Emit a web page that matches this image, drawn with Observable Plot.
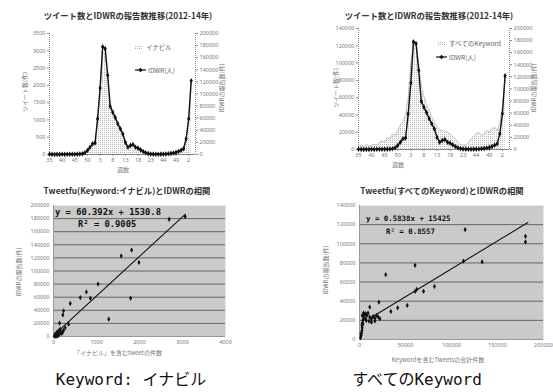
<!DOCTYPE html>
<html><head><meta charset="utf-8">
<script src="https://cdn.jsdelivr.net/npm/d3@7"></script>
<script src="https://cdn.jsdelivr.net/npm/@observablehq/plot@0.6"></script>
<style>
body{margin:0;background:#fff;}
#root{position:relative;width:553px;height:392px;overflow:hidden;font-family:"Noto Sans CJK JP","Noto Sans",sans-serif;}
.abs{position:absolute;white-space:nowrap;line-height:1;}
.c{transform:translate(-50%,-50%);}
.title{font-size:8.3px;font-weight:bold;color:#333;}
.axt{font-size:6px;color:#777;}
.vt{font-size:6px;color:#777;transform:translate(-50%,-50%) rotate(-90deg);}
.leg{font-size:6.5px;color:#666;}
.eq{font-family:"DejaVu Sans Mono","Noto Sans CJK JP",monospace;font-weight:bold;color:#111;}
.cap{font-family:"DejaVu Sans Mono","Noto Sans CJK JP",monospace;font-size:16px;color:#111;}
svg.plot-el{position:absolute;}
</style></head>
<body><div id="root">
<svg width="0" height="0" style="position:absolute">
 <defs>
  <pattern id="dots" width="2" height="2" patternUnits="userSpaceOnUse">
   <rect x="0" y="0" width="2" height="2" fill="#fafafa"/>
   <rect x="0" y="0" width="1" height="1" fill="#b8b8b8"/>
  </pattern>
  <pattern id="bg" width="2" height="2" patternUnits="userSpaceOnUse">
   <rect x="0" y="0" width="2" height="2" fill="#ebebeb"/>
   <rect x="0" y="0" width="1" height="1" fill="#a8a8a8"/>
   <rect x="1" y="1" width="1" height="1" fill="#a8a8a8"/>
  </pattern>
 </defs>
</svg>
</div>
<script>
// ---- data ----
const weeks = [35,36,37,38,39,40,41,42,43,44,45,46,47,48,49,50,51,52,1,2,3,4,5,6,7,8,9,10,11,12,13,14,15,16,17,18,19,20,21,22,23,40,41,42,43,44,45,46,47,48,49,50,51,52,1,2,3];
const idwr = [300,250,200,250,200,300,250,300,350,400,500,600,800,1200,
  3000,6600,12000,17700,19000,59000,110000,178000,175000,131000,
  79500,70000,61000,51000,42500,34000,20000,12000,15000,16500,
  12000,10500,7700,5000,2800,1500,900,600,500,500,
  600,700,900,1200,1800,2500,3500,5000,7000,9400,
  26000,59000,122000];
const tweetsInabiru = [15,12,10,14,10,12,15,12,15,18,20,25,30,40,
  60,110,190,260,320,1000,1900,2950,2900,2200,
  1300,1150,1000,820,680,550,330,200,230,260,
  200,170,120,80,50,30,20,15,12,12,
  15,18,22,28,40,55,70,95,130,180,
  450,1000,2050];
const tweetsAll = [4000,5000,3000,6000,4000,5000,6000,5000,8000,10000,9000,14000,12000,18000,
  16000,22000,28000,32000,40000,60000,100000,126000,124000,100000,
  75000,62000,52000,45000,38000,32000,26000,23000,22000,21000,
  20000,18000,15000,12000,9000,6000,5000,5000,8000,12000,
  15000,18000,20000,16000,18000,22000,20000,24000,26000,22000,
  30000,50000,80000];
const weekTickIdx = [0,5,10,15,20,25,30,35,40,45,50,55];

const sc1x = [2689,3063,1574,1816,1987,1037,764,624,857,1793,390,234,218,1286,140,351,273,
  78,117,156,62,94,140,195,234,39,16,117,171,218,39,78];
const sc1y = [179000,183000,123000,132000,113000,80000,68000,59500,58500,58500,50400,39200,33000,26500,20300,18800,13700,
  6100,8650,11200,2500,1000,3600,4600,9700,300,500,2000,6600,7600,3600,500];
const trend1 = {slope:60.392, intercept:1530.8, x0:30, x1:3063};

const sc2x = [114800,180400,180400,113000,133300,60400,28500,62200,60400,69600,81500,21100,51900,41500,34100,11100,
  1850,2200,2600,3000,2600,3000,3700,4400,4400,5550,6700,8100,9250,11100,13000,14800,16700,18500,20400,22200,
  13000,16700,7400,10400,4400,3000,1100,1500,3700,6700];
const sc2y = [114800,107800,101900,82000,81000,77500,67700,52300,50300,50300,55500,39100,35600,33100,29300,33900,
  4200,6600,9400,12200,14700,17100,19900,21600,24100,26200,26900,25100,27600,23400,21600,24100,22300,25100,23400,21600,
  18100,19200,19900,19200,27600,25100,1700,5900,16400,21600];
const trend2 = {slope:0.5838, intercept:15425, x0:13700, x1:183000};

const leftTicks1 = d3.range(0,3501,500);
const leftTicks2 = d3.range(0,140001,20000);
const rightTicks = d3.range(0,200001,20000);
const sc1xTicks = [0,1000,2000,3000,4000];
const sc1yTicks = d3.range(0,200001,20000);
const sc2xTicks = [0,50000,100000,150000,200000];
const sc2yTicks = d3.range(0,140001,20000);

// ---- helpers ----
const root = document.getElementById("root");
const plain = d => String(d);
function place(el, left, top){ el.classList.add("plot-el"); el.style.left=left+"px"; el.style.top=top+"px"; root.appendChild(el); }
function txt(cls, s, x, y, extra){ const d=document.createElement("div"); d.className="abs "+cls; d.textContent=s; d.style.left=x+"px"; d.style.top=y+"px"; if(extra) Object.assign(d.style, extra); root.appendChild(d); return d; }
const base = {fontSize:"5.5px", color:"#777", fontFamily:"'Noto Sans','DejaVu Sans',sans-serif", background:"none", overflow:"visible"};
const rows = weeks.map((w,i)=>({i, w, idwr:idwr[i], ti:tweetsInabiru[i], ta:tweetsAll[i]}));
const xDom = [0,57.7];

function topChart(left, W, H, m, tweetKey, yMax, leftTicks){
  const a = Plot.plot({width:W,height:H,marginLeft:m.l,marginRight:m.r,marginTop:m.t,marginBottom:m.b,
    style:base, x:{domain:xDom}, y:{domain:[0,yMax]},
    marks:[
      Plot.areaY(rows,{x:"i",y:tweetKey,fill:"url(#dots)",curve:"linear"}),
      Plot.lineY(rows,{x:"i",y:tweetKey,stroke:"#aaa",strokeWidth:0.7,strokeDasharray:"1,1"}),
      Plot.ruleX([xDom[0]],{stroke:"#888",strokeDasharray:"1,1"}),
      Plot.ruleY([0],{stroke:"#666",strokeWidth:0.8}),
      Plot.axisY({ticks:leftTicks,tickFormat:plain,tickSize:2,tickPadding:2,label:null,stroke:"#888"}),
      Plot.axisX({ticks:weekTickIdx,tickFormat:i=>weeks[i],tickSize:2,tickPadding:2,label:null,stroke:"#888"})
    ]});
  place(a, left, 0);
  const b = Plot.plot({width:W,height:H,marginLeft:m.l,marginRight:m.r,marginTop:m.t,marginBottom:m.b,
    style:base, x:{domain:xDom,axis:null}, y:{domain:[0,200000]},
    marks:[
      Plot.ruleX([xDom[1]],{stroke:"#888",strokeDasharray:"1,1"}),
      Plot.lineY(rows,{x:"i",y:"idwr",stroke:"#111",strokeWidth:1.4}),
      Plot.dot(rows,{x:"i",y:"idwr",symbol:"diamond",r:1.7,fill:"#111",stroke:"none"}),
      Plot.axisY({anchor:"right",ticks:rightTicks,tickFormat:plain,tickSize:2,tickPadding:2,label:null,stroke:"#888"})
    ]});
  place(b, left, 0);
}
topChart(0, 276, 185, {l:49,r:81,t:33,b:31}, "ti", 3500, leftTicks1);
topChart(276, 277, 185, {l:82,r:44,t:28,b:36}, "ta", 140000, leftTicks2);

function scatter(left, top, W, H, m, xs, ys, tr, xMax, yMax, xT, yT){
  const pts = xs.map((x,k)=>({x, y:ys[k]}));
  const tl = [tr.x0, tr.x1].map(x=>({x, y:tr.slope*x+tr.intercept}));
  const p = Plot.plot({width:W,height:H,marginLeft:m.l,marginRight:m.r,marginTop:m.t,marginBottom:m.b,
    style:base, x:{domain:[0,xMax]}, y:{domain:[0,yMax]},
    marks:[
      Plot.frame({fill:"url(#bg)",stroke:"none"}),
      Plot.gridY({ticks:yT.slice(1,-1),stroke:"#333",strokeOpacity:0.75,strokeWidth:0.9}),
      Plot.ruleY([0],{stroke:"#999"}),
      Plot.ruleX([0],{stroke:"#999"}),
      Plot.line(tl,{x:"x",y:"y",stroke:"#111",strokeWidth:1.1}),
      Plot.dot(pts,{x:"x",y:"y",symbol:"diamond",r:1.6,fill:"#111",stroke:"none"}),
      Plot.axisX({ticks:xT,tickFormat:plain,tickSize:0,tickPadding:4,label:null}),
      Plot.axisY({ticks:yT,tickFormat:plain,tickSize:0,tickPadding:4,label:null})
    ]});
  place(p, left, top);
}
scatter(0, 190, 276, 175, {l:53,r:51,t:15,b:29}, sc1x, sc1y, trend1, 4000, 200000, sc1xTicks, sc1yTicks);
scatter(276, 190, 277, 175, {l:83,r:10,t:15,b:26}, sc2x, sc2y, trend2, 200000, 140000, sc2xTicks, sc2yTicks);

// ---- texts ----
txt("title c","ツイート数とIDWRの報告数推移(2012-14年)",128,15);
txt("title c","ツイート数とIDWRの報告数推移(2012-14年)",429,15);
txt("title c","Tweetfu(Keyword:イナビル)とIDWRの相関",127,190);
txt("title c","Tweetfu(すべてのKeyword)とIDWRの相関",442,190);

txt("axt c","週数",123,170);
txt("axt c","週数",398,165);
txt("vt","ツイート数(件)",25,92);
txt("vt","IDWRの報告数(件)",222,88);
txt("vt","ツイート数(件)",336,88);
txt("vt","IDWRの報告数(件)",534,88);
txt("axt c","「イナビル」を含むtweetの件数",118,353);
txt("axt c","Keywordを含むTweetsの合計件数",438,360);
txt("vt","IDWRの報告数(件)",19,272);
txt("vt","IDWRの報告数(件)",326,270);

// legends
function legend(x, y, label, kind){
  const s = document.createElementNS("http://www.w3.org/2000/svg","svg");
  s.setAttribute("width",12); s.setAttribute("height",6);
  s.style.position="absolute"; s.style.left=x+"px"; s.style.top=(y-3)+"px";
  if(kind==="area"){ s.innerHTML='<rect x="1" y="1" width="9" height="4" fill="url(#dots)"/>'; }
  else { s.innerHTML='<line x1="0" y1="3" x2="11" y2="3" stroke="#111" stroke-width="1.2"/><path d="M5.5,0.8 L7.7,3 L5.5,5.2 L3.3,3Z" fill="#111"/>'; }
  root.appendChild(s);
  txt("leg",label,x+13,y-3.5);
}
legend(133,47,"イナビル","area");
legend(135,70,"IDWR(人)","line");
legend(436,43,"すべてのKeyword","area");
legend(436,57,"IDWR(人)","line");

txt("eq","y = 60.392x + 1530.8",55,208,{fontSize:"8.8px"});
txt("eq","R² = 0.9005",78,220,{fontSize:"8.8px"});
txt("eq","y = 0.5838x + 15425",366,215,{fontSize:"7.4px"});
txt("eq","R² = 0.8557",386,228,{fontSize:"7.4px"});

txt("cap c","Keyword: イナビル",131,380);
txt("cap c","すべてのKeyword",417,380);
</script>
</body></html>
